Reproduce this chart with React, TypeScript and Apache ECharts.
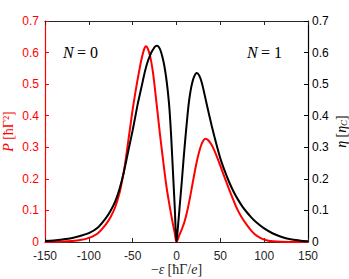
import React, { useEffect, useRef } from "react";
import * as echarts from "echarts";

// Power P (left axis, red)
const xP = [-150, -140, -130, -120, -110, -100, -90, -80, -75, -70, -65, -62, -60, -58, -55, -52, -50, -48, -45, -42, -40, -37, -35, -33, -30, -27, -25, -23, -21, -19, -17, -15, -13, -11, -8, -6, -4, -2, 0, 3, 6, 9, 12, 15, 18, 21, 24, 27, 30, 33, 36, 40, 44, 48, 52, 56, 60, 65, 70, 75, 80, 85, 90, 95, 100, 105, 110, 120, 130, 150];
const yP = [0.0003, 0.0006, 0.0012, 0.003, 0.006, 0.013, 0.027, 0.058, 0.08, 0.11, 0.155, 0.195, 0.225, 0.26, 0.32, 0.38, 0.42, 0.455, 0.505, 0.55, 0.578, 0.61, 0.62, 0.614, 0.588, 0.54, 0.495, 0.445, 0.395, 0.345, 0.298, 0.252, 0.208, 0.167, 0.117, 0.085, 0.056, 0.028, 0, 0.02, 0.04, 0.063, 0.095, 0.135, 0.18, 0.225, 0.265, 0.297, 0.318, 0.327, 0.323, 0.308, 0.285, 0.256, 0.226, 0.196, 0.167, 0.132, 0.1, 0.075, 0.055, 0.037, 0.023, 0.014, 0.008, 0.004, 0.002, 0.0006, 0.0002, 0];

// Efficiency eta (right axis, black)
const xEta = [-150, -140, -130, -120, -110, -100, -90, -80, -75, -70, -65, -60, -55, -50, -47, -44, -40, -36, -33, -30, -28, -26, -24, -22, -20, -18, -16, -14, -12, -10, -8, -6, -4, -2, 0, 2, 4, 6, 8, 10, 12, 14, 16, 18, 20, 23, 26, 29, 31, 35, 40, 45, 50, 55, 60, 65, 70, 75, 80, 85, 90, 100, 110, 120, 130, 140, 150];
const yEta = [0.003, 0.005, 0.008, 0.012, 0.019, 0.028, 0.045, 0.078, 0.1, 0.128, 0.168, 0.222, 0.288, 0.354, 0.397, 0.44, 0.49, 0.54, 0.57, 0.592, 0.604, 0.613, 0.62, 0.622, 0.617, 0.605, 0.585, 0.56, 0.525, 0.48, 0.42, 0.33, 0.22, 0.11, 0, 0.06, 0.125, 0.19, 0.26, 0.325, 0.385, 0.44, 0.478, 0.505, 0.523, 0.535, 0.527, 0.503, 0.48, 0.43, 0.37, 0.315, 0.265, 0.225, 0.19, 0.16, 0.135, 0.113, 0.095, 0.079, 0.065, 0.043, 0.027, 0.016, 0.009, 0.005, 0.002];

const xTickMin = -150;
const xTickMax = 150;
const xTickStep = 50;
const yTickMin = 0;
const yTickMax = 0.7;
const yTickStep = 0.1;

const RED = "#ff0000";
const DARK = "#262626";
const SANS = "'Liberation Sans', Arial, sans-serif";
const SERIF = "'Liberation Serif', 'Times New Roman', serif";
const NAME_SIZE = 14;

export default function App() {
  const ref = useRef<HTMLDivElement>(null);
  useEffect(() => {
    if (!ref.current) return;
    const chart = echarts.init(ref.current, undefined, { renderer: "svg" });
    const nameRich = (color: string) => ({
      i: { fontFamily: SERIF, fontStyle: "italic", fontSize: NAME_SIZE, color, lineHeight: 14 },
      r: { fontFamily: SERIF, fontSize: NAME_SIZE, color, lineHeight: 14 },
      sub: { fontFamily: SERIF, fontStyle: "italic", fontSize: 9, color, verticalAlign: "bottom", padding: [6, 0, 0, 0], lineHeight: 14 },
    });
    const xAxisCommon = {
      type: "value" as const,
      min: xTickMin,
      max: xTickMax,
      interval: xTickStep,
      splitLine: { show: false },
      axisLine: { show: true, onZero: false, lineStyle: { color: DARK, width: 1.2 } },
      axisTick: { show: true, inside: true, length: 4, lineStyle: { color: DARK, width: 1 } },
    };
    const yAxisCommon = {
      type: "value" as const,
      min: yTickMin,
      max: yTickMax,
      interval: yTickStep,
      splitLine: { show: false },
    };
    const nText = (t: string) => ({
      text: `{i|N} {r|= ${t}}`,
      rich: {
        i: { fontFamily: SERIF, fontStyle: "italic", fontSize: 16, fill: "#000" },
        r: { fontFamily: SERIF, fontSize: 16, fill: "#000" },
      },
    });
    chart.setOption({
      animation: false,
      backgroundColor: "#ffffff",
      grid: { left: 45, right: 41, top: 21, bottom: 37, containLabel: false, outerBoundsMode: "none" },
      xAxis: [
        {
          ...xAxisCommon,
          position: "bottom",
          axisLabel: { color: DARK, fontFamily: SANS, fontSize: 12, margin: 8 },
          name: "{r|−}{i|ε} {r|[ħΓ/}{i|e}{r|]}",
          nameLocation: "middle",
          nameGap: 20,
          nameMoveOverlap: false,
          nameTextStyle: { rich: nameRich(DARK) },
        },
        {
          ...xAxisCommon,
          position: "top",
          axisLabel: { show: false },
        },
      ],
      yAxis: [
        {
          ...yAxisCommon,
          position: "left",
          axisLine: { show: true, onZero: false, lineStyle: { color: RED, width: 1.2 } },
          axisTick: { show: true, inside: true, length: 4, lineStyle: { color: RED, width: 1 } },
          axisLabel: { color: RED, fontFamily: SANS, fontSize: 12, margin: 6 },
          name: "{i|P} {r|[ħΓ²]}",
          nameLocation: "middle",
          nameGap: 30,
          nameMoveOverlap: false,
          nameTextStyle: { rich: nameRich(RED) },
        },
        {
          ...yAxisCommon,
          position: "right",
          axisLine: { show: true, onZero: false, lineStyle: { color: "#000000", width: 1.2 } },
          axisTick: { show: true, inside: true, length: 4, lineStyle: { color: "#000000", width: 1 } },
          axisLabel: { color: "#000000", fontFamily: SANS, fontSize: 12, margin: 4 },
          name: "{i|η} {r|[}{i|η}{sub|C}{r|]}",
          nameLocation: "middle",
          nameGap: 26,
          nameMoveOverlap: false,
          nameTextStyle: { rich: nameRich("#000000") },
        },
      ],
      series: [
        {
          type: "line",
          xAxisIndex: 0,
          yAxisIndex: 0,
          data: xP.map((x, i) => [x, yP[i]]),
          showSymbol: false,
          smooth: 0.3,
          lineStyle: { color: RED, width: 2 },
          z: 2,
        },
        {
          type: "line",
          xAxisIndex: 0,
          yAxisIndex: 1,
          data: xEta.map((x, i) => [x, yEta[i]]),
          showSymbol: false,
          smooth: 0.3,
          lineStyle: { color: "#000000", width: 2 },
          z: 3,
        },
      ],
      graphic: [
        { type: "text", left: 63, top: 44, style: nText("0") },
        { type: "text", left: 247, top: 44, style: nText("1") },
      ],
    });
    return () => chart.dispose();
  }, []);
  return (
    <div
      ref={ref}
      style={{ position: "fixed", left: 0, top: 0, width: 349, height: 279, background: "#fff" }}
    />
  );
}
